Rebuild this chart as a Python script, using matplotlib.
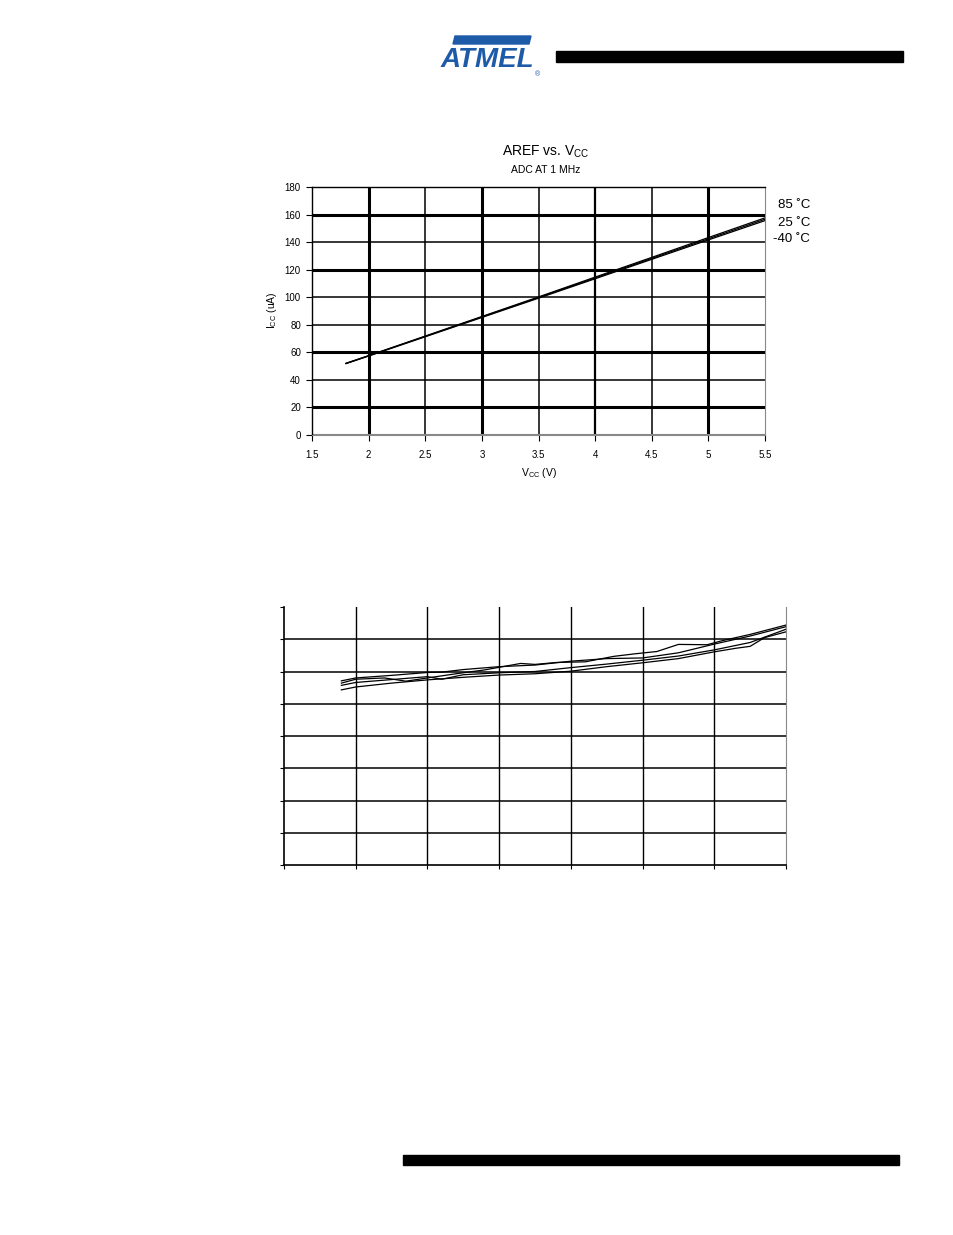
import numpy as np
import matplotlib.pyplot as plt
from matplotlib.patches import Rectangle, Polygon

plt.rcParams['font.family'] = ['Liberation Sans', 'DejaVu Sans']
plt.rcParams['mathtext.fontset'] = 'custom'
plt.rcParams['mathtext.rm'] = 'Liberation Sans'

# chart 1: AREF vs VCC
vcc = [1.8, 2.0, 2.5, 3.0, 3.5, 4.0, 4.5, 5.0, 5.5]
icc_85 = [52.0, 57.6, 71.8, 86.0, 100.2, 114.6, 128.9, 143.3, 157.6]
icc_25 = [52.0, 57.5, 71.6, 85.7, 99.8, 114.0, 128.2, 142.4, 156.6]
icc_m40 = [51.8, 57.3, 71.3, 85.3, 99.3, 113.4, 127.5, 141.6, 155.6]
temp_labels = ['85 ˚C', '25 ˚C', '-40 ˚C']
xticks1 = [1.5, 2, 2.5, 3, 3.5, 4, 4.5, 5, 5.5]
yticks1 = [0, 20, 40, 60, 80, 100, 120, 140, 160, 180]

# chart 2: unlabeled curves (grid units)
s1_x = [0.8, 1.0, 1.4, 1.7, 2.0, 2.4, 2.8, 3.0, 3.3, 3.5, 3.8, 4.2, 4.6, 4.9, 5.2, 5.5, 5.9, 6.1, 6.5, 7.0]
s1_y = [5.64, 5.76, 5.80, 5.70, 5.80, 5.93, 6.05, 6.13, 6.25, 6.22, 6.28, 6.30, 6.47, 6.55, 6.62, 6.84, 6.83, 6.95, 7.15, 7.44]
s2_x = [0.8, 1.0, 1.5, 2.0, 2.2, 2.5, 3.0, 3.5, 4.0, 4.5, 5.0, 5.5, 6.0, 6.5, 7.0]
s2_y = [5.71, 5.80, 5.88, 5.97, 5.98, 6.06, 6.15, 6.20, 6.32, 6.40, 6.42, 6.58, 6.85, 7.10, 7.39]
s3_x = [0.8, 1.0, 1.5, 2.0, 2.2, 2.5, 3.0, 3.5, 4.0, 4.5, 5.0, 5.5, 6.0, 6.5, 7.0]
s3_y = [5.57, 5.66, 5.75, 5.84, 5.76, 5.90, 5.96, 6.00, 6.12, 6.23, 6.35, 6.48, 6.67, 6.90, 7.31]
s4_x = [0.8, 1.0, 1.5, 2.0, 2.5, 3.0, 3.5, 4.0, 4.5, 5.0, 5.5, 6.0, 6.3, 6.5, 6.7, 7.0]
s4_y = [5.43, 5.52, 5.64, 5.74, 5.82, 5.89, 5.93, 6.01, 6.15, 6.27, 6.40, 6.61, 6.72, 6.78, 7.05, 7.23]

W, H = 954, 1235
fig = plt.figure(figsize=(W / 100, H / 100), dpi=100)

def fx(px):
    return px / W

def fy(py):
    return 1 - py / H

# page decorations
fig.patches.append(Rectangle((fx(556), fy(62)), fx(903) - fx(556), fy(51) - fy(62),
                             transform=fig.transFigure, color='black'))
fig.patches.append(Rectangle((fx(403), fy(1165)), fx(899) - fx(403), fy(1155) - fy(1165),
                             transform=fig.transFigure, color='black'))
blue = '#1d5aa8'
fig.patches.append(Polygon([(fx(455), fy(36)), (fx(531), fy(36)), (fx(529), fy(44)), (fx(453), fy(44))],
                           closed=True, transform=fig.transFigure, color=blue))
fig.text(fx(487), fy(60), 'ATMEL', fontsize=20, fontweight='bold', style='italic',
         color=blue, ha='center', va='center')
fig.patches.append(Rectangle((fx(440), fy(68)), fx(530) - fx(440), 1.5 / H,
                             transform=fig.transFigure, color='white'))
fig.text(fx(535), fy(75), '®', fontsize=5, color=blue, ha='left', va='center')

# ---- chart 1
ax = fig.add_axes([fx(312), fy(435), fx(765) - fx(312), fy(187) - fy(435)])
ax.set_xlim(1.5, 5.5)
ax.set_ylim(0, 180)
for y in yticks1[1:]:
    lw = 2.2 if y in (20, 60, 120, 160) else 1.1
    ax.axhline(y, color='black', lw=lw, zorder=1)
for x in xticks1[1:-1]:
    lw = 2.2 if x in (2, 3, 5) else (1.6 if x == 4 else 1.1)
    ax.axvline(x, color='black', lw=lw, zorder=1)
ax.axhline(0.9, color='#888888', lw=0.8, zorder=1)

for ys in (icc_85, icc_25, icc_m40):
    ax.plot(vcc, ys, color='black', lw=0.9, zorder=3)

ax.set_xticks(xticks1)
ax.set_yticks(yticks1)
ax.set_xticklabels([f'{v:g}' for v in xticks1])
ax.tick_params(labelsize=7, length=4, width=0.8, direction='out', pad=7)
ax.tick_params(axis='y', pad=4)
for side in ('left', 'top'):
    ax.spines[side].set_color('black')
    ax.spines[side].set_linewidth(1.0)
ax.spines['right'].set_color('#888888')
ax.spines['bottom'].set_color('#888888')

fig.text(fx(546), fy(152), r'AREF vs. V$\mathregular{_{CC}}$', fontsize=10, ha='center', va='center')
fig.text(fx(546), fy(170), 'ADC AT 1 MHz', fontsize=7.5, ha='center', va='center')
fig.text(fx(539), fy(473), r'V$\mathregular{_{CC}}$ (V)', fontsize=7.5, ha='center', va='center')
fig.text(fx(272), fy(310), r'I$\mathregular{_{CC}}$ (uA)', fontsize=7.5, ha='center', va='center',
         rotation=90)
for lab, py in zip(temp_labels, (205, 223, 239)):
    fig.text(fx(810), fy(py), lab, fontsize=9.5, ha='right', va='center')

# ---- chart 2
ax2 = fig.add_axes([fx(284), fy(865), fx(786) - fx(284), fy(607) - fy(865)])
ax2.set_xlim(0, 7)
ax2.set_ylim(0, 8)
for y in range(1, 8):
    ax2.axhline(y, color='black', lw=1.1, zorder=1)
for x in range(1, 7):
    ax2.axvline(x, color='black', lw=1.0, zorder=1)
for sx, sy in ((s1_x, s1_y), (s2_x, s2_y), (s3_x, s3_y), (s4_x, s4_y)):
    ax2.plot(sx, sy, color='black', lw=0.9, zorder=3)
ax2.set_xticks(range(0, 8))
ax2.set_yticks(range(0, 9))
ax2.set_xticklabels([])
ax2.set_yticklabels([])
ax2.tick_params(length=3, width=0.8, direction='out')
ax2.spines['top'].set_visible(False)
ax2.spines['right'].set_color('#888888')
ax2.spines['left'].set_linewidth(1.2)
ax2.spines['bottom'].set_linewidth(1.2)

fig.savefig('out.png', dpi=100)
